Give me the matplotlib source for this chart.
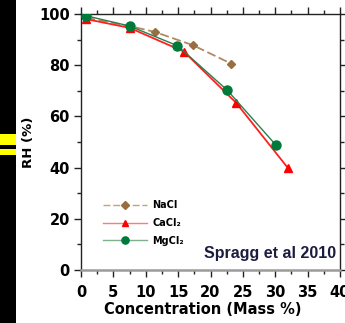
import matplotlib
matplotlib.use("Agg")
import matplotlib.pyplot as plt
import matplotlib.patches as patches
from matplotlib.ticker import MultipleLocator

plt.rcParams['font.family'] = ['DejaVu Sans']

# data (concentration in mass %, RH in %)
nacl_x = [0.8, 7.5, 11.4, 17.3, 23.2]
nacl_y = [98.5, 95.3, 93.0, 87.8, 80.6]
cacl_x = [0.8, 7.5, 15.9, 24.0, 32.0]
cacl_y = [98.0, 94.6, 85.3, 65.2, 39.7]
mgcl_x = [0.8, 7.5, 14.9, 22.6, 30.1]
mgcl_y = [99.3, 95.3, 87.6, 70.2, 48.8]
labels = ['NaCl', 'CaCl\u2082', 'MgCl\u2082']

fig = plt.figure(figsize=(3.45, 3.23), dpi=100)

# black strip with yellow marks at the left edge
fig.patches.append(patches.Rectangle((0, 0), 16 / 345, 1, transform=fig.transFigure,
                                     facecolor='black', edgecolor='none'))
for y0, y1 in [(134, 145), (149, 155)]:
    fig.patches.append(patches.Rectangle((0, 1 - y1 / 323), 16 / 345, (y1 - y0) / 323,
                                         transform=fig.transFigure,
                                         facecolor='#ffff00', edgecolor='none'))

ax = fig.add_axes([81 / 345, 1 - 270 / 323, 259 / 345, 256 / 323])

ax.plot(nacl_x, nacl_y, color='#b08a60', lw=1.3, ls=(0, (5, 2)),
        marker='D', ms=4.5, mfc='#9a6f40', mec='#9a6f40', label=labels[0], zorder=2)
ax.plot(cacl_x, cacl_y, color='#ff2020', lw=1.3,
        marker='^', ms=5.5, mfc='#ff0000', mec='#ff0000', label=labels[1], zorder=3)
ax.plot(mgcl_x, mgcl_y, color='#2e7d4f', lw=1.0,
        marker='o', ms=6.5, mfc='#007a3a', mec='#007a3a', label=labels[2], zorder=4)

ax.set_xlim(0, 40)
ax.set_ylim(0, 100)
ax.xaxis.set_major_locator(MultipleLocator(5))
ax.xaxis.set_minor_locator(MultipleLocator(2.5))
ax.yaxis.set_major_locator(MultipleLocator(20))
ax.yaxis.set_minor_locator(MultipleLocator(10))
ax.tick_params(which='both', direction='out', top=True, right=True,
               labeltop=False, labelright=False, width=1.0, color='#222222')
ax.tick_params(which='major', length=5, labelsize=10.5, pad=3)
ax.tick_params(axis='x', which='major', pad=6)
ax.tick_params(which='minor', length=3)
for lab in ax.get_xticklabels() + ax.get_yticklabels():
    lab.set_fontweight('bold')

for s in ['left', 'top', 'right']:
    ax.spines[s].set_color('#222222')
    ax.spines[s].set_linewidth(1.0)
ax.spines['bottom'].set_color('#9a9a9a')
ax.spines['bottom'].set_linewidth(1.8)

ax.set_xlabel('Concentration (Mass %)', fontsize=10.5, fontweight='bold')
ax.xaxis.set_label_coords(0.471, -0.125)
ax.set_ylabel('RH (%)', fontsize=9.5, fontweight='bold', labelpad=3)

leg = ax.legend(loc='lower left', bbox_to_anchor=(0.05, 0.06), frameon=False,
                handlelength=4.6, handletextpad=0.5, labelspacing=0.8,
                markerscale=0.8, prop={'size': 7, 'weight': 'bold'})
for h, c in zip(leg.legend_handles, ['#c4a27c', '#ff7a7a', '#7fb08f']):
    h.set_color(c)
    h.set_linewidth(1.0)

ax.text(0.985, 0.035, 'Spragg et al 2010', transform=ax.transAxes,
        ha='right', va='bottom', fontsize=11.5, fontweight='bold',
        family=['Liberation Sans'], color='#1c1c40')

fig.savefig('out.png', dpi=100)
